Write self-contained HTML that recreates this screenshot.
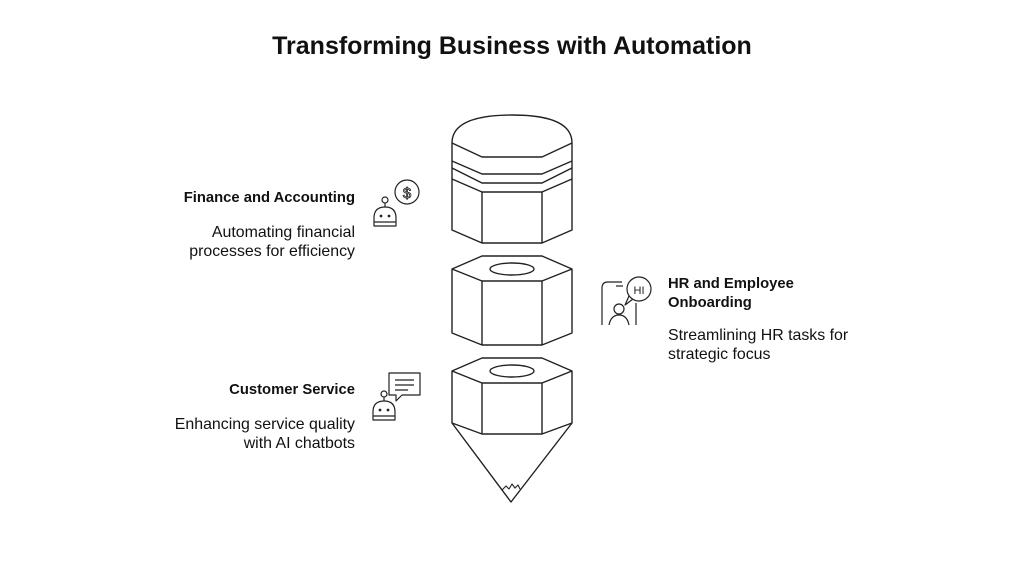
<!DOCTYPE html>
<html><head><meta charset="utf-8"><style>
html,body{margin:0;padding:0;background:#fff;}
body{width:1024px;height:576px;overflow:hidden;position:relative;font-family:"Liberation Sans",sans-serif;color:#111;}
.t{position:absolute;font-size:15.9px;line-height:19px;}
.b{font-weight:bold;font-size:14.8px;}
.r{text-align:right;}
</style></head><body>
<svg width="1024" height="576" style="position:absolute;left:0;top:0" fill="none" stroke="#222" stroke-width="1.4" stroke-linejoin="round">
<text x="512" y="54" text-anchor="middle" font-family="Liberation Sans" font-weight="bold" font-size="25" fill="#111" stroke="none">Transforming Business with Automation</text>
<!-- top piece -->
<path d="M452,143 Q452,115 512,115 Q572,115 572,143"/>
<path d="M452,143 L452,230 L482,243 L542,243 L572,230 L572,143"/>
<path d="M452,143 L482,157 L542,157 L572,143"/>
<path d="M452,161 L482,174 L542,174 L572,161"/>
<path d="M452,168 L482,183 L542,183 L572,168"/>
<path d="M452,179 L482,192 L542,192 L572,179"/>
<path d="M482,192 L482,243 M542,192 L542,243"/>
<!-- middle piece -->
<path d="M452,269 L482,256 L542,256 L572,269 L572,333 L542,345 L482,345 L452,333 Z"/>
<path d="M452,269 L482,281 L542,281 L572,269 M482,281 L482,345 M542,281 L542,345"/>
<ellipse cx="512" cy="269" rx="22" ry="6"/>
<!-- bottom piece -->
<path d="M452,371 L482,358 L542,358 L572,371 L572,423 L542,434 L482,434 L452,423 Z"/>
<path d="M452,371 L482,383 L542,383 L572,371 M482,383 L482,434 M542,383 L542,434"/>
<ellipse cx="512" cy="371" rx="22" ry="6"/>
<path d="M452,423 L511,502 L572,423"/>
<path d="M502,490 L506,486 L509,489 L512,484 L515,488 L518,485 L520,489" stroke-width="1.1"/>
<!-- finance icon -->
<g stroke-width="1.2">
<circle cx="407" cy="192" r="12"/>
<text x="407" y="198" text-anchor="middle" font-size="15" fill="none" stroke="#222" stroke-width="0.8" font-family="Liberation Sans">$</text>
<circle cx="385" cy="200" r="3"/><path d="M385,203 L385,207"/>
<path d="M374,226 L374,218 Q374,207 385,207 Q396,207 396,218 L396,226 Z M374,222 L396,222"/>
<circle cx="381" cy="216" r="0.8" fill="#222"/><circle cx="389" cy="216" r="0.8" fill="#222"/>
</g>
<!-- customer service icon -->
<g stroke-width="1.2">
<path d="M389,373 L420,373 L420,395 L402,395 L396,401 L396,395 L389,395 Z"/>
<path d="M395,380 L414,380 M395,385 L414,385 M395,390 L408,390"/>
<circle cx="384" cy="394" r="3"/><path d="M384,397 L384,401"/>
<path d="M373,420 L373,412 Q373,401 384,401 Q395,401 395,412 L395,420 Z M373,416 L395,416"/>
<circle cx="380" cy="410" r="0.8" fill="#222"/><circle cx="388" cy="410" r="0.8" fill="#222"/>
</g>
<!-- HR icon -->
<g stroke-width="1.2">
<path d="M602,325 L602,288 Q602,282 608,282 L622,282"/>
<path d="M616,286 L623,286"/>
<path d="M636,303 L636,325"/>
<circle cx="639" cy="289" r="12"/>
<path d="M629,296 L625,305 L633,299"/>
<text x="639" y="294" text-anchor="middle" font-size="11" fill="#222" stroke="none" font-family="Liberation Sans">HI</text>
<circle cx="619" cy="309" r="5"/>
<path d="M609,325 Q611,315 619,315 Q627,315 629,325"/>
</g>
</svg>
<div class="t b r" style="right:669px;top:189px;">Finance and Accounting</div>
<div class="t r" style="right:669px;top:223px;">Automating financial<br>processes for efficiency</div>
<div class="t b" style="left:668px;top:275px;">HR and Employee<br>Onboarding</div>
<div class="t" style="left:668px;top:326px;">Streamlining HR tasks for<br>strategic focus</div>
<div class="t b r" style="right:669px;top:381px;">Customer Service</div>
<div class="t r" style="right:669px;top:415px;">Enhancing service quality<br>with AI chatbots</div>
</body></html>
